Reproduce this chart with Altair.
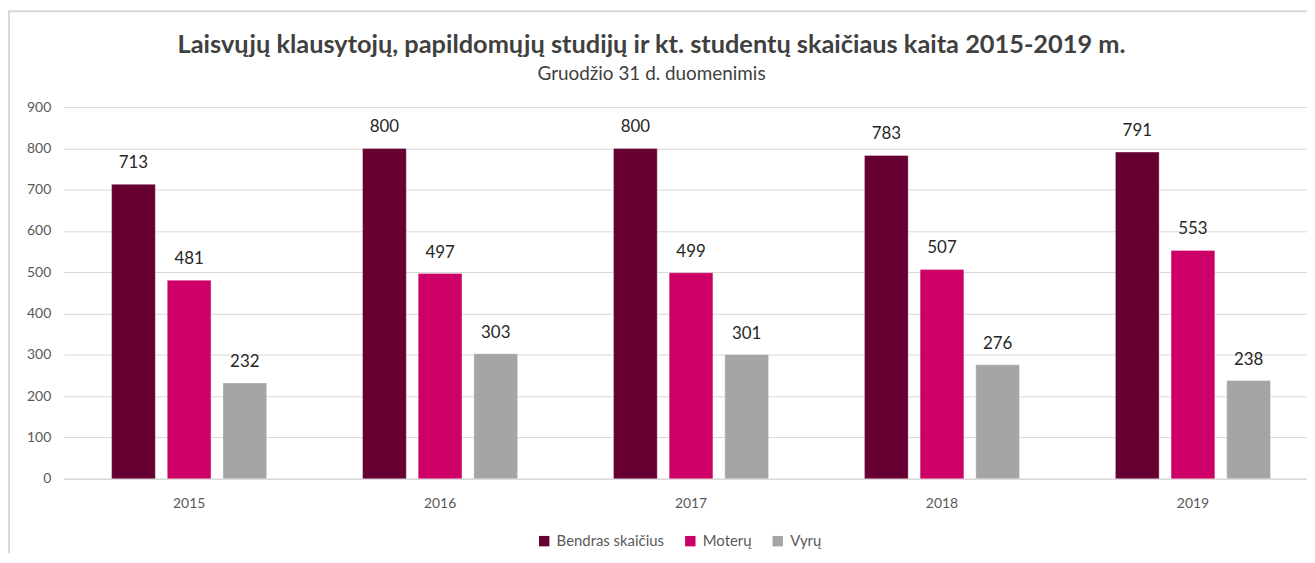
import altair as alt
import pandas as pd

years = ["2015", "2016", "2017", "2018", "2019"]
series = ["Bendras skaičius", "Moterų", "Vyrų"]
bendras = [713, 800, 800, 783, 791]
moteru = [481, 497, 499, 507, 553]
vyru = [232, 303, 301, 276, 238]
colors = ["#660033", "#CC0066", "#A5A5A5"]

rows = []
for i, y in enumerate(years):
    for s, vals in zip(series, [bendras, moteru, vyru]):
        rows.append({"year": y, "series": s, "value": vals[i]})
df = pd.DataFrame(rows)

FONT = "Lato"
W, H = 1251, 374

xscale = alt.Scale(range=[0, 1262.5], paddingInner=0.382, paddingOuter=0.191)
xoff = alt.Scale(paddingInner=0.214, paddingOuter=0)

base = alt.Chart(df).encode(
    x=alt.X("year:N", scale=xscale, sort=years,
            axis=alt.Axis(title=None, labelAngle=0, ticks=False, domainColor="#d9d9d9",
                          domainWidth=1.5, labelColor="#595959", labelFontSize=14,
                          labelFont=FONT, labelPadding=18)),
    xOffset=alt.XOffset("series:N", sort=series, scale=xoff),
)

bars = base.mark_bar(strokeWidth=1, strokeOpacity=0.35, stroke="white").encode(
    y=alt.Y("value:Q", scale=alt.Scale(domain=[0, 900]),
            axis=alt.Axis(title=None, values=list(range(0, 901, 100)), ticks=False,
                          domain=False, gridColor="#d9d9d9", labelColor="#595959",
                          labelFontSize=14, labelFont=FONT, labelPadding=13)),
    color=alt.Color("series:N", sort=series,
                    scale=alt.Scale(domain=series, range=colors),
                    legend=alt.Legend(title=None, orient="none", direction="horizontal",
                                      legendX=476, legendY=429, symbolType="square",
                                      symbolSize=110, symbolStrokeWidth=0,
                                      labelFontSize=15, labelFont=FONT,
                                      labelColor="#595959", columnPadding=18,
                                      labelOffset=5, padding=0)),
)

labels = base.mark_text(baseline="bottom", dy=-12, fontSize=17, font=FONT,
                        color="#262626").encode(
    y="value:Q",
    text="value:Q",
)

frame_df = pd.DataFrame({"a": [0]})
top_border = alt.Chart(frame_df).mark_rule(color="#d9d9d9", strokeWidth=2).encode(
    x=alt.value(-56), x2=alt.value(W), y=alt.value(-96.5))
left_border = alt.Chart(frame_df).mark_rule(color="#d9d9d9", strokeWidth=2).encode(
    x=alt.value(-55), y=alt.value(-97.5), y2=alt.value(H + 75))

chart = alt.layer(bars, labels, top_border, left_border).properties(
    width=W, height=H,
    title=alt.TitleParams(
        "Laisvųjų klausytojų, papildomųjų studijų ir kt. studentų skaičiaus kaita 2015-2019 m.",
        subtitle="Gruodžio 31 d. duomenimis",
        font=FONT, fontSize=25.5, fontWeight="bold", color="#404040",
        subtitleFont=FONT, subtitleFontSize=19, subtitleColor="#404040",
        subtitlePadding=6, anchor="middle", offset=-75, dx=-34,
    ),
    autosize=alt.AutoSizeParams(type="none"),
    padding={"left": 56, "top": 98, "right": 0, "bottom": 75},
).configure_view(stroke=None).configure_axis(grid=True).configure_axisX(grid=False)

chart.save("out.html", embed_options={"renderer": "svg", "actions": False})
